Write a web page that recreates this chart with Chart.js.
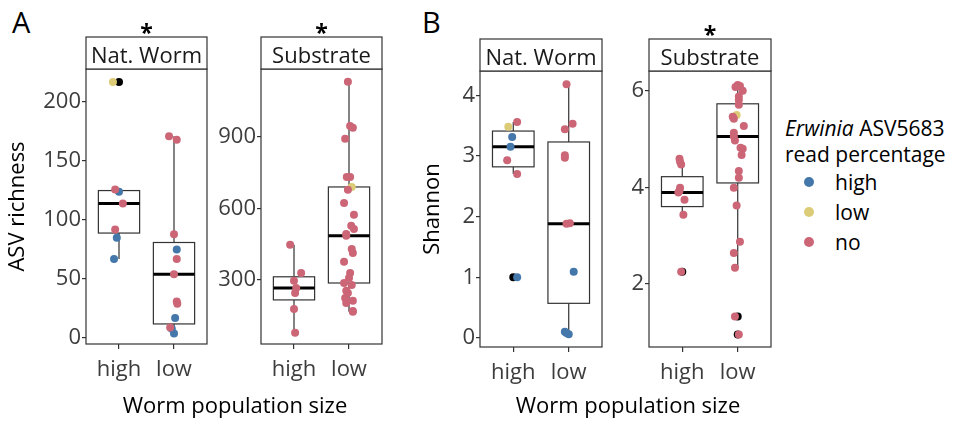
<!DOCTYPE html>
<html lang="en">
<head>
  <meta charset="UTF-8">
  <title>ASV richness and Shannon by worm population size</title>
  <script src="https://cdn.jsdelivr.net/npm/chart.js"></script>
  <style>
    body { margin: 0; width: 960px; height: 423px; background: #fff; position: relative; overflow: hidden; font-family: "Open Sans", sans-serif; }
    .panel { position: absolute; top: 0; height: 400px; }
    .tag { position: absolute; top: 7px; font-size: 29px; line-height: 29px; color: #000; }
    .xtitle { position: absolute; top: 393px; font-size: 22px; line-height: 22px; color: #000; transform: translateX(-50%); white-space: nowrap; }
    #legend { position: absolute; left: 785px; top: 115px; font-size: 21px; color: #000; }
    #legend .ttl { line-height: 26px; white-space: nowrap; }
    #legend .item { line-height: 30px; height: 30px; position: relative; padding-left: 50px; }
    #legend .dot { position: absolute; left: 19px; top: 10px; width: 10px; height: 10px; border-radius: 50%; }
  </style>
</head>
<body>
  <div class="tag" style="left:12px">A</div>
  <div class="tag" style="left:422px">B</div>

  <div class="panel" style="left:0px;width:215px"><canvas id="richWorm"></canvas></div>
  <div class="panel" style="left:215px;width:180px"><canvas id="richSub"></canvas></div>
  <div class="panel" style="left:412px;width:196px"><canvas id="shanWorm"></canvas></div>
  <div class="panel" style="left:610px;width:170px"><canvas id="shanSub"></canvas></div>

  <div class="xtitle" style="left:235px">Worm population size</div>
  <div class="xtitle" style="left:628px">Worm population size</div>

  <div id="legend">
    <div class="ttl"><i>Erwinia</i> ASV5683</div>
    <div class="ttl">read percentage</div>
    <div id="legendItems"></div>
  </div>

  <script>
    const groups = ['high', 'low'];
    const classNames = ['high', 'low', 'no'];
    const classColors = ['#4477AA', '#DDCC77', '#CC6677'];

    // box stats per group: [lower whisker, q1, median, q3, upper whisker]
    // ASV richness, Nat. Worm
    const richWormTicks = [0, 50, 100, 150, 200];
    const richWormBox = [[67, 89, 114, 125, 126], [4, 12, 54, 81, 171]];
    const richWormOut = [[217], []];
    const richWormHigh = [[1.00, 124], [0.96, 85], [0.91, 67], [2.05, 75], [2.02, 17], [1.96, 8], [2.00, 4]];
    const richWormLow = [[0.89, 217]];
    const richWormNo = [[0.93, 126], [1.07, 114], [0.93, 92], [1.91, 171], [2.05, 168], [2.00, 88], [2.05, 67],
      [2.00, 54], [2.05, 31], [2.06, 29], [1.93, 9]];

    // ASV richness, Substrate
    const richSubTicks = [300, 600, 900];
    const richSubBox = [[78, 216, 266, 313, 447], [166, 287, 485, 690, 1131]];
    const richSubOut = [[], []];
    const richSubHigh = [];
    const richSubLow = [[2.05, 690]];
    const richSubNo = [[0.93, 447], [1.13, 329], [1.00, 296], [1.04, 266], [1.02, 245], [1.00, 178], [1.02, 78],
      [1.98, 1131], [2.02, 946], [2.07, 938], [1.93, 892], [1.96, 732], [2.02, 732], [1.98, 678], [1.91, 623],
      [2.09, 573], [2.04, 527], [2.09, 514], [1.95, 493], [1.95, 485], [2.05, 430], [2.07, 413], [1.91, 376],
      [2.02, 329], [2.00, 308], [1.91, 287], [2.05, 279], [1.95, 254], [1.98, 245], [1.93, 224], [2.07, 212],
      [1.95, 203], [2.07, 170], [2.07, 166]];

    // Shannon, Nat. Worm
    const shanWormTicks = [0, 1, 2, 3, 4];
    const shanWormBox = [[2.70, 2.82, 3.15, 3.41, 3.56], [0.05, 0.57, 1.88, 3.23, 4.18]];
    const shanWormOut = [[1.0], []];
    const shanWormHigh = [[0.98, 3.31], [0.95, 3.15], [1.07, 1.00], [2.09, 1.09], [1.96, 0.08], [2.00, 0.06], [1.93, 0.10]];
    const shanWormLow = [[0.91, 3.48]];
    const shanWormNo = [[1.07, 3.56], [0.89, 2.93], [1.07, 2.70], [1.96, 4.18], [2.07, 3.53], [1.93, 3.44],
      [1.93, 3.01], [1.93, 2.97], [1.96, 1.88], [2.02, 1.89]];

    // Shannon, Substrate
    const shanSubTicks = [2, 4, 6];
    const shanSubBox = [[3.43, 3.60, 3.89, 4.22, 4.59], [2.33, 4.09, 5.05, 5.73, 6.12]];
    const shanSubOut = [[2.25], [1.32, 0.95]];
    const shanSubHigh = [];
    const shanSubLow = [[1.98, 5.50]];
    const shanSubNo = [[0.95, 4.59], [0.96, 4.53], [0.98, 4.47], [0.96, 3.99], [0.95, 3.93], [0.93, 3.89],
      [1.04, 3.74], [1.02, 3.43], [0.98, 2.25],
      [2.00, 6.12], [2.04, 6.10], [1.96, 6.08], [2.09, 6.00], [2.02, 5.88], [2.02, 5.81], [2.02, 5.71],
      [1.91, 5.46], [1.93, 5.42], [2.11, 5.27], [1.93, 5.13], [1.93, 5.05], [1.95, 4.97], [2.05, 4.82],
      [2.09, 4.80], [2.07, 4.67], [2.02, 4.34], [2.02, 4.20], [1.93, 3.99], [1.98, 3.62], [2.04, 2.87],
      [1.93, 2.64], [1.95, 2.33], [1.95, 1.32], [2.02, 0.95]];

    const FONT = '"Open Sans", sans-serif';
    const LINE = '#333333';
    const TICK_TEXT = '#3d3d3d';

    const boxPlugin = {
      id: 'boxes',
      beforeDatasetsDraw(chart, args, o) {
        const { ctx, scales: { x, y } } = chart;
        ctx.save();
        o.stats.forEach((s, i) => {
          const c = x.getPixelForValue(i + 1);
          const l = x.getPixelForValue(i + 1 - 0.375);
          const r = x.getPixelForValue(i + 1 + 0.375);
          const [lo, q1, med, q3, hi] = s.map(v => y.getPixelForValue(v));
          ctx.strokeStyle = LINE;
          ctx.lineWidth = 1.2;
          ctx.beginPath();
          ctx.moveTo(c, lo); ctx.lineTo(c, q1);
          ctx.moveTo(c, q3); ctx.lineTo(c, hi);
          ctx.stroke();
          ctx.fillStyle = '#fff';
          ctx.fillRect(l, q3, r - l, q1 - q3);
          ctx.strokeRect(l, q3, r - l, q1 - q3);
          ctx.strokeStyle = '#000';
          ctx.lineWidth = 3;
          ctx.beginPath();
          ctx.moveTo(l, med); ctx.lineTo(r, med);
          ctx.stroke();
          ctx.fillStyle = '#000';
          o.outliers[i].forEach(v => {
            ctx.beginPath();
            ctx.arc(c, y.getPixelForValue(v), 4, 0, Math.PI * 2);
            ctx.fill();
          });
        });
        ctx.restore();
      },
      afterDraw(chart, args, o) {
        const { ctx, chartArea: a } = chart;
        ctx.save();
        ctx.strokeStyle = LINE;
        ctx.lineWidth = 1.2;
        ctx.strokeRect(a.left, a.top, a.right - a.left, a.bottom - a.top);
        ctx.fillStyle = '#fff';
        ctx.fillRect(a.left, a.top - 32, a.right - a.left, 32);
        ctx.strokeRect(a.left, a.top - 32, a.right - a.left, 32);
        ctx.fillStyle = '#1a1a1a';
        ctx.font = '22px ' + FONT;
        ctx.textAlign = 'center';
        ctx.textBaseline = 'middle';
        const mid = (a.left + a.right) / 2;
        ctx.fillText(o.strip, mid, a.top - 12.5);
        if (o.star) {
          ctx.fillStyle = '#000';
          ctx.font = 'bold 23px ' + FONT;
          ctx.textBaseline = 'alphabetic';
          ctx.fillText('*', mid, a.top - 28);
        }
        ctx.restore();
      }
    };

    function toXY(arr) {
      return arr.map(p => ({ x: p[0], y: p[1] }));
    }

    function drawPanel(id, o) {
      const sets = [o.no, o.high, o.low];
      const colors = [classColors[2], classColors[0], classColors[1]];
      return new Chart(document.getElementById(id), {
        type: 'scatter',
        data: {
          datasets: sets.map((d, i) => ({ data: toXY(d), backgroundColor: colors[i], borderWidth: 0 }))
        },
        options: {
          responsive: true,
          maintainAspectRatio: false,
          animation: false,
          layout: { padding: { top: o.top, right: o.right, left: 0, bottom: 0 } },
          elements: { point: { radius: 4, hoverRadius: 4, borderWidth: 0 } },
          plugins: {
            legend: { display: false },
            tooltip: { enabled: false },
            boxes: { stats: o.stats, outliers: o.outliers, strip: o.strip, star: o.star }
          },
          scales: {
            x: {
              type: 'linear', min: 0.4, max: 2.6,
              afterBuildTicks: s => { s.ticks = groups.map((g, i) => ({ value: i + 1 })); },
              afterFit: s => { s.height = 400 - o.bottom; },
              ticks: { callback: v => groups[v - 1], color: TICK_TEXT, font: { family: FONT, size: 22 }, padding: 8, maxRotation: 0, autoSkip: false },
              grid: { drawOnChartArea: false, tickLength: 5, color: LINE, lineWidth: 1.2 },
              border: { display: false }
            },
            y: {
              min: o.ymin, max: o.ymax,
              afterBuildTicks: s => { s.ticks = o.ticks.map(v => ({ value: v })); },
              afterFit: s => { s.width = o.yw; },
              ticks: { color: TICK_TEXT, font: { family: FONT, size: 22 }, padding: 1 },
              grid: { drawOnChartArea: false, tickLength: 4, color: LINE, lineWidth: 1.2 },
              border: { display: false },
              title: { display: !!o.title, text: o.title, color: '#000', font: { family: FONT, size: 22 }, padding: { top: o.tpad || 0 } }
            }
          }
        },
        plugins: [boxPlugin]
      });
    }

    drawPanel('richWorm', {
      strip: 'Nat. Worm', star: true, title: 'ASV richness', tpad: 5,
      top: 69, bottom: 344, right: 8, yw: 86, ymin: -5, ymax: 228, ticks: richWormTicks,
      stats: richWormBox, outliers: richWormOut, high: richWormHigh, low: richWormLow, no: richWormNo
    });
    drawPanel('richSub', {
      strip: 'Substrate', star: true,
      top: 69, bottom: 344, right: 13, yw: 46, ymin: 31, ymax: 1185, ticks: richSubTicks,
      stats: richSubBox, outliers: richSubOut, high: richSubHigh, low: richSubLow, no: richSubNo
    });
    drawPanel('shanWorm', {
      strip: 'Nat. Worm', star: false, title: 'Shannon', tpad: 8,
      top: 71, bottom: 347, right: 6, yw: 68, ymin: -0.15, ymax: 4.40, ticks: shanWormTicks,
      stats: shanWormBox, outliers: shanWormOut, high: shanWormHigh, low: shanWormLow, no: shanWormNo
    });
    drawPanel('shanSub', {
      strip: 'Substrate', star: true,
      top: 71, bottom: 347, right: 9, yw: 39, ymin: 0.69, ymax: 6.41, ticks: shanSubTicks,
      stats: shanSubBox, outliers: shanSubOut, high: shanSubHigh, low: shanSubLow, no: shanSubNo
    });

    const items = document.getElementById('legendItems');
    classNames.forEach((n, i) => {
      const div = document.createElement('div');
      div.className = 'item';
      div.innerHTML = `<span class="dot" style="background:${classColors[i]}"></span>${n}`;
      items.appendChild(div);
    });
  </script>
</body>
</html>
